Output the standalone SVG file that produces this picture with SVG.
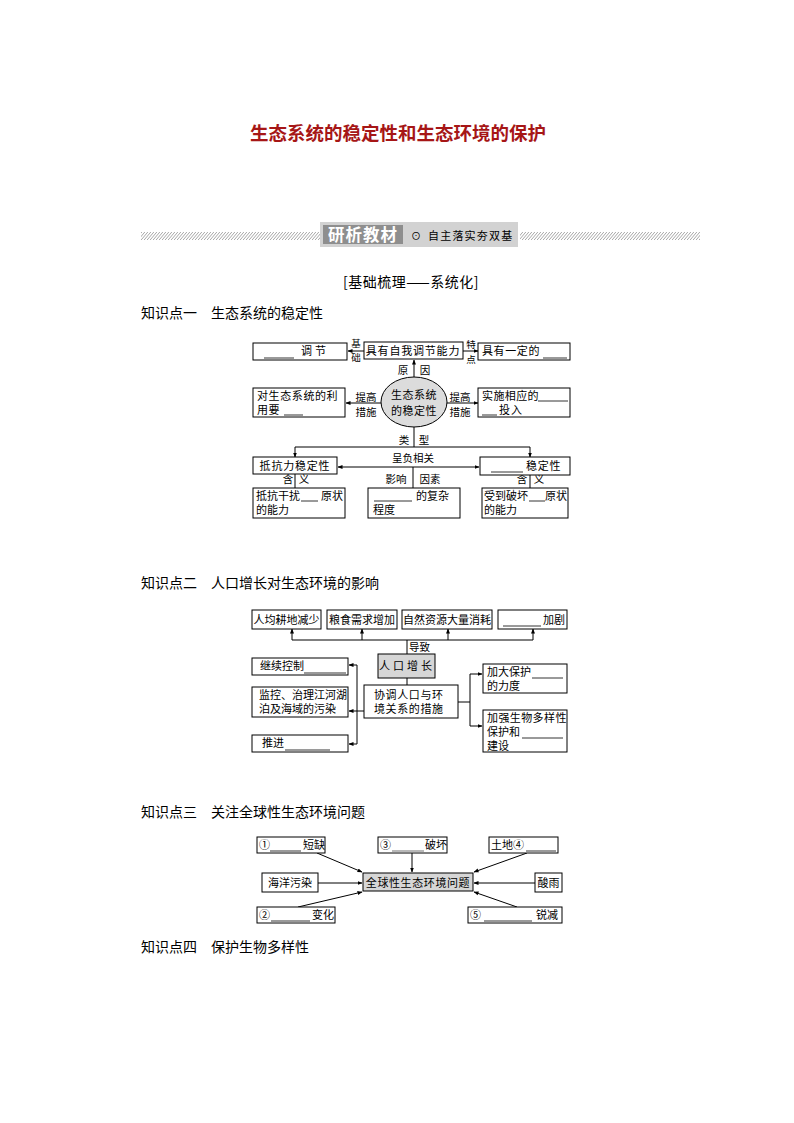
<svg xmlns="http://www.w3.org/2000/svg" width="794" height="1123" viewBox="0 0 794 1123">
<defs>
<marker id="ah" viewBox="0 0 10 10" refX="9" refY="5" markerWidth="5" markerHeight="5" orient="auto-start-reverse" markerUnits="userSpaceOnUse">
<path d="M0,1 L10,5 L0,9 z" fill="#000"/>
</marker>
<pattern id="hatch" width="3" height="8" patternUnits="userSpaceOnUse" patternTransform="skewX(-40)">
<rect x="0" y="0" width="1" height="8" fill="#a8a8a8"/>
</pattern>
<style>
text{font-family:"Noto Sans CJK SC","Noto Sans",sans-serif;fill:#000}
.b{fill:#fff;stroke:#000;stroke-width:1}
.g{fill:#d6d6d6;stroke:#000;stroke-width:1}
.t{font-size:11px}
.s{font-size:10.5px}
.v{font-size:9.5px}
.h{font-size:14px}
.c{text-anchor:middle}
.u{stroke:#000;stroke-width:0.8}
.ln{stroke:#000;stroke-width:1;fill:none}
.ar{stroke:#000;stroke-width:1;fill:none;marker-end:url(#ah)}
.da{stroke:#000;stroke-width:1;fill:none;marker-end:url(#ah);marker-start:url(#ah)}
</style>
</defs>
<rect width="794" height="1123" fill="#fff"/>

<g id="title">
<text x="398" y="140" class="c" style="font-size:18.5px;font-weight:bold;fill:#a61616">生态系统的稳定性和生态环境的保护</text>
</g>

<g id="header">
<rect x="141" y="232" width="179" height="8" fill="url(#hatch)"/>
<rect x="520" y="232" width="180" height="8" fill="url(#hatch)"/>
<rect x="320" y="222" width="198" height="25" fill="#d2d2d2"/>
<rect x="323" y="225" width="80" height="19" fill="#8e8e8e"/>
<text x="363" y="241" class="c" style="font-size:16.5px;font-weight:bold;fill:#fff;letter-spacing:1px">研析教材</text>
<text x="416" y="240" class="c" style="font-size:10px">⊙</text>
<text x="428" y="240" style="font-size:11px;letter-spacing:1.2px">自主落实夯双基</text>
<text x="411" y="287" class="c" style="font-size:14px;letter-spacing:0.5px">[基础梳理——系统化]</text>
</g>

<g id="headings">
<text x="141" y="318" class="h">知识点一　生态系统的稳定性</text>
<text x="141" y="588" class="h">知识点二　人口增长对生态环境的影响</text>
<text x="141" y="817" class="h">知识点三　关注全球性生态环境问题</text>
<text x="141" y="952" class="h">知识点四　保护生物多样性</text>
</g>

<!-- Diagram 1 -->
<g id="connectors1">
<line x1="364" y1="351" x2="348" y2="351" class="ar"/>
<line x1="463" y1="351" x2="478" y2="351" class="ar"/>
<line x1="414" y1="377" x2="414" y2="360" class="ar"/>
<line x1="381" y1="403" x2="346" y2="403" class="ar"/>
<line x1="447" y1="403" x2="478" y2="403" class="ar"/>
<polyline points="414,427 414,447" class="ln"/>
<polyline points="295,447 530,447" class="ln"/>
<line x1="295" y1="447" x2="295" y2="457" class="ar"/>
<line x1="530" y1="447" x2="530" y2="457" class="ar"/>
<line x1="338" y1="467" x2="479" y2="467" class="da"/>
<line x1="295" y1="474" x2="295" y2="488" class="ln"/>
<line x1="413" y1="467" x2="413" y2="488" class="ln"/>
<line x1="530" y1="475" x2="530" y2="488" class="ln"/>
<text x="356" y="347" class="v c">基</text>
<text x="356" y="361" class="v c">础</text>
<text x="471" y="348" class="v c">特</text>
<text x="471" y="363" class="v c">点</text>
<text x="403" y="374" class="s c">原</text>
<text x="425" y="374" class="s c">因</text>
<text x="366" y="401" class="s c">提高</text>
<text x="366" y="416" class="s c">措施</text>
<text x="460" y="401" class="s c">提高</text>
<text x="460" y="416" class="s c">措施</text>
<text x="404" y="444" class="s c">类</text>
<text x="424" y="444" class="s c">型</text>
<text x="413" y="462" class="s c">呈负相关</text>
<text x="288" y="483" class="s c">含</text>
<text x="304" y="483" class="s c">义</text>
<text x="396" y="483" class="s c">影响</text>
<text x="430" y="483" class="s c">因素</text>
<text x="522" y="483" class="s c">含</text>
<text x="539" y="483" class="s c">义</text>
</g>

<g id="n1a">
<rect x="253" y="343" width="94" height="17" class="b"/>
<line x1="264" y1="358" x2="294" y2="358" class="u"/>
<text x="301" y="355" class="t" style="letter-spacing:3px">调节</text>
</g>
<g id="n1b">
<rect x="364" y="342" width="99" height="17" class="b"/>
<text x="413" y="355" class="t c" style="letter-spacing:0.8px">具有自我调节能力</text>
</g>
<g id="n1c">
<rect x="478" y="343" width="92" height="17" class="b"/>
<text x="482" y="355" class="t" style="letter-spacing:0.6px">具有一定的</text>
<line x1="543" y1="358" x2="567" y2="358" class="u"/>
</g>
<g id="n1d">
<ellipse cx="414" cy="402" rx="33" ry="25" fill="#dcdcdc" stroke="#000" stroke-width="1"/>
<text x="414" y="399" class="t c" style="letter-spacing:0.5px">生态系统</text>
<text x="414" y="415" class="t c" style="letter-spacing:0.5px">的稳定性</text>
</g>
<g id="n1e">
<rect x="253" y="388" width="92" height="29" class="b"/>
<text x="257" y="400" class="t" style="letter-spacing:0.6px">对生态系统的利</text>
<text x="257" y="414" class="t" style="letter-spacing:0.6px">用要</text>
<line x1="284" y1="415" x2="303" y2="415" class="u"/>
</g>
<g id="n1f">
<rect x="478" y="388" width="92" height="29" class="b"/>
<text x="482" y="400" class="t" style="letter-spacing:0.4px">实施相应的</text>
<line x1="538" y1="401" x2="568" y2="401" class="u"/>
<line x1="482" y1="415" x2="497" y2="415" class="u"/>
<text x="499" y="414" class="t" style="letter-spacing:1px">投入</text>
</g>
<g id="n1g">
<rect x="253" y="457" width="84" height="17" class="b"/>
<text x="295" y="470" class="t c" style="letter-spacing:0.8px">抵抗力稳定性</text>
</g>
<g id="n1h">
<rect x="480" y="457" width="90" height="18" class="b"/>
<line x1="491" y1="472" x2="523" y2="472" class="u"/>
<text x="526" y="470" class="t" style="letter-spacing:0.8px">稳定性</text>
</g>
<g id="n1i">
<rect x="253" y="488" width="92" height="30" class="b"/>
<text x="256" y="500" class="t">抵抗干扰</text>
<line x1="301" y1="501" x2="318" y2="501" class="u"/>
<text x="321" y="500" class="t">原状</text>
<text x="256" y="514" class="t">的能力</text>
</g>
<g id="n1j">
<rect x="368" y="488" width="92" height="30" class="b"/>
<line x1="374" y1="501" x2="412" y2="501" class="u"/>
<text x="416" y="500" class="t">的复杂</text>
<text x="373" y="514" class="t">程度</text>
</g>
<g id="n1k">
<rect x="482" y="488" width="86" height="30" class="b"/>
<text x="484" y="500" class="t">受到破坏</text>
<line x1="529" y1="501" x2="545" y2="501" class="u"/>
<text x="545" y="500" class="t">原状</text>
<text x="484" y="514" class="t">的能力</text>
</g>

<!-- Diagram 2 -->
<g id="connectors2">
<polyline points="292,640 533,640" class="ln"/>
<line x1="292" y1="640" x2="292" y2="629" class="ar"/>
<line x1="362" y1="640" x2="362" y2="629" class="ar"/>
<line x1="448" y1="640" x2="448" y2="629" class="ar"/>
<line x1="533" y1="640" x2="533" y2="629" class="ar"/>
<line x1="407" y1="640" x2="407" y2="654" class="ln"/>
<text x="409" y="651" class="s">导致</text>
<line x1="407" y1="678" x2="407" y2="685" class="ln"/>
<line x1="364" y1="711" x2="357" y2="711" class="ln"/>
<line x1="357" y1="665" x2="357" y2="744" class="ln"/>
<line x1="357" y1="665" x2="349" y2="665" class="ar"/>
<line x1="357" y1="711" x2="349" y2="711" class="ar"/>
<line x1="357" y1="744" x2="349" y2="744" class="ar"/>
<line x1="458" y1="702" x2="470" y2="702" class="ln"/>
<line x1="470" y1="674" x2="470" y2="726" class="ln"/>
<line x1="470" y1="674" x2="482" y2="674" class="ar"/>
<line x1="470" y1="726" x2="482" y2="726" class="ar"/>
</g>
<g id="n2a">
<rect x="252" y="610" width="69" height="19" class="b"/>
<text x="286.5" y="624" class="t c">人均耕地减少</text>
</g>
<g id="n2b">
<rect x="327" y="610" width="70" height="19" class="b"/>
<text x="362" y="624" class="t c">粮食需求增加</text>
</g>
<g id="n2c">
<rect x="402" y="610" width="90" height="19" class="b"/>
<text x="447" y="624" class="t c">自然资源大量消耗</text>
</g>
<g id="n2d">
<rect x="498" y="610" width="69" height="19" class="b"/>
<line x1="503" y1="626" x2="541" y2="626" class="u"/>
<text x="543" y="624" class="t">加剧</text>
</g>
<g id="n2e">
<rect x="378" y="654" width="57" height="24" class="g"/>
<text x="407" y="670" class="t c" style="letter-spacing:3px">人口增长</text>
</g>
<g id="n2f">
<rect x="364" y="685" width="94" height="33" class="b"/>
<text x="374" y="699" class="t" style="letter-spacing:0.6px">协调人口与环</text>
<text x="374" y="713" class="t" style="letter-spacing:0.6px">境关系的措施</text>
</g>
<g id="n2g">
<rect x="252" y="658" width="96" height="17" class="b"/>
<text x="260" y="670" class="t">继续控制</text>
<line x1="304" y1="673" x2="346" y2="673" class="u"/>
</g>
<g id="n2h">
<rect x="252" y="687" width="96" height="30" class="b"/>
<text x="259" y="699" class="t">监控、治理江河湖</text>
<text x="259" y="713" class="t">泊及海域的污染</text>
</g>
<g id="n2i">
<rect x="252" y="735" width="96" height="17" class="b"/>
<text x="262" y="747" class="t">推进</text>
<line x1="285" y1="750" x2="330" y2="750" class="u"/>
</g>
<g id="n2j">
<rect x="483" y="664" width="84" height="29" class="b"/>
<text x="487" y="676" class="t">加大保护</text>
<line x1="532" y1="678" x2="563" y2="678" class="u"/>
<text x="487" y="690" class="t">的力度</text>
</g>
<g id="n2k">
<rect x="483" y="710" width="84" height="42" class="b"/>
<text x="487" y="722" class="t" style="letter-spacing:0.4px">加强生物多样性</text>
<text x="487" y="736" class="t">保护和</text>
<line x1="522" y1="738" x2="563" y2="738" class="u"/>
<text x="487" y="750" class="t">建设</text>
</g>

<!-- Diagram 3 -->
<g id="connectors3">
<line x1="317" y1="853" x2="362" y2="872" class="ar"/>
<line x1="412" y1="853" x2="412" y2="872" class="ar"/>
<line x1="527" y1="853" x2="474" y2="872" class="ar"/>
<line x1="318" y1="883" x2="362" y2="883" class="ar"/>
<line x1="535" y1="883" x2="474" y2="883" class="ar"/>
<line x1="298" y1="907" x2="362" y2="892" class="ar"/>
<line x1="517" y1="907" x2="474" y2="892" class="ar"/>
</g>
<g id="n3a">
<rect x="257" y="837" width="68" height="16" class="b"/>
<text x="259" y="849" class="t">①</text>
<line x1="270" y1="851" x2="301" y2="851" class="u"/>
<text x="303" y="849" class="t">短缺</text>
</g>
<g id="n3b">
<rect x="378" y="837" width="69" height="16" class="b"/>
<text x="380" y="849" class="t">③</text>
<line x1="392" y1="851" x2="424" y2="851" stroke="#888" stroke-width="1.2"/>
<text x="425" y="849" class="t">破坏</text>
</g>
<g id="n3c">
<rect x="489" y="837" width="69" height="16" class="b"/>
<text x="491" y="849" class="t">土地④</text>
<line x1="526" y1="851" x2="556" y2="851" class="u"/>
</g>
<g id="n3d">
<rect x="262" y="873" width="56" height="19" class="b"/>
<text x="290" y="887" class="t c">海洋污染</text>
</g>
<g id="n3e">
<rect x="363" y="873" width="110" height="18" class="g"/>
<text x="418" y="886.5" class="t c" style="letter-spacing:0.6px">全球性生态环境问题</text>
</g>
<g id="n3f">
<rect x="535" y="873" width="27" height="19" class="b"/>
<text x="548.5" y="887" class="t c">酸雨</text>
</g>
<g id="n3g">
<rect x="257" y="907" width="78" height="16" class="b"/>
<text x="259" y="919" class="t">②</text>
<line x1="271" y1="921" x2="310" y2="921" class="u"/>
<text x="312" y="919" class="t">变化</text>
</g>
<g id="n3h">
<rect x="468" y="907" width="94" height="16" class="b"/>
<text x="470" y="919" class="t">⑤</text>
<line x1="484" y1="921" x2="532" y2="921" class="u"/>
<text x="536" y="919" class="t">锐减</text>
</g>
</svg>
